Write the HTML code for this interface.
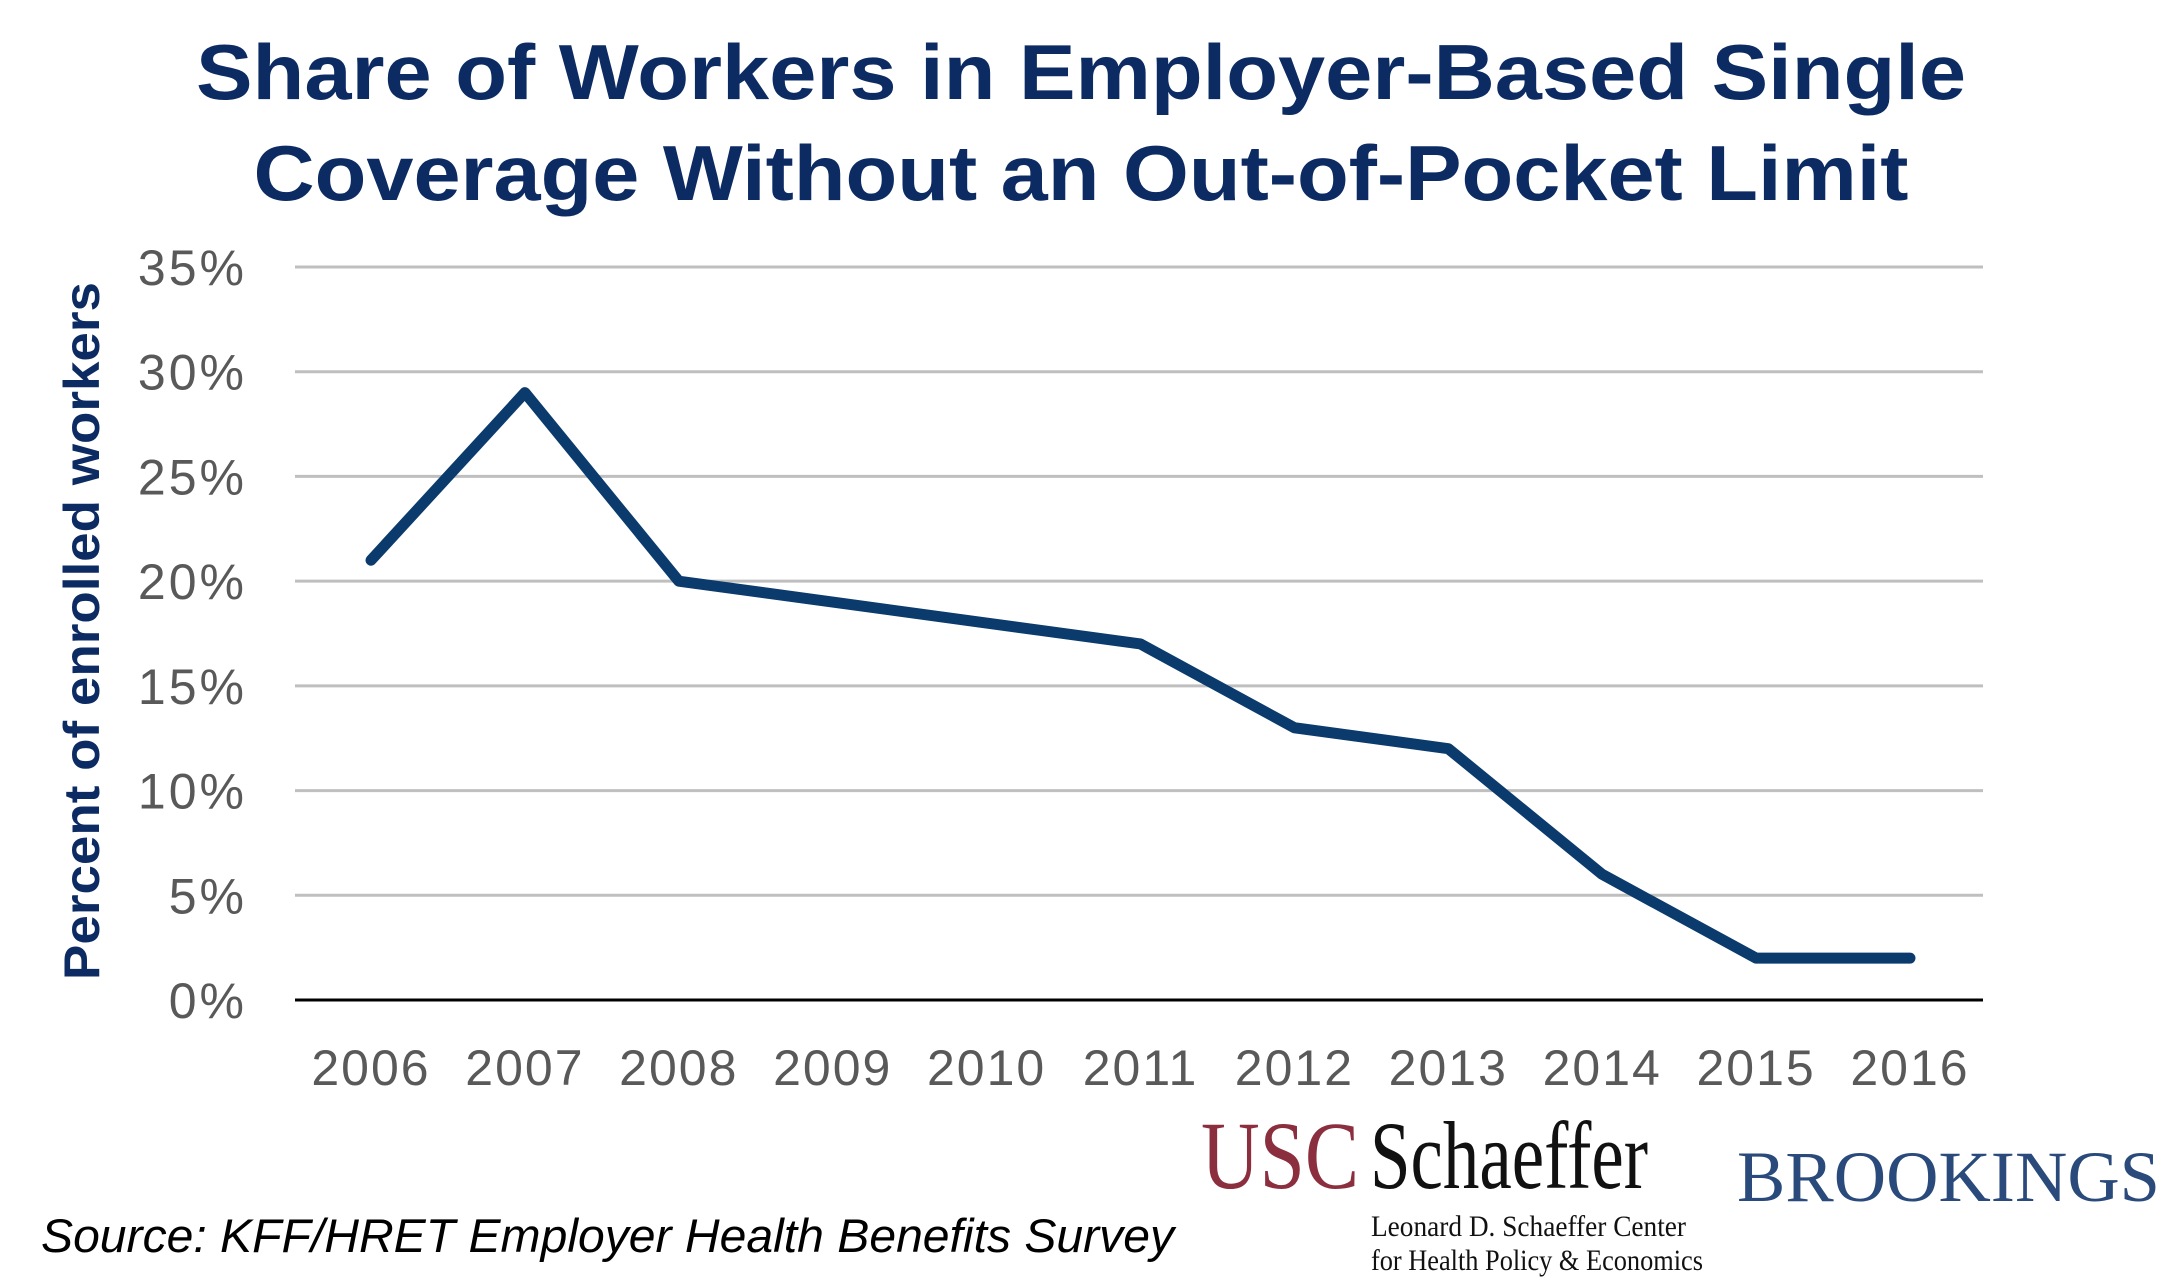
<!DOCTYPE html>
<html><head><meta charset="utf-8"><style>
html,body{margin:0;padding:0;background:#fff;}
svg{display:block;}
</style></head><body>
<svg id="chart" width="2170" height="1283" viewBox="0 0 2170 1283" xmlns="http://www.w3.org/2000/svg">
  <g font-family="Liberation Sans, Arial, sans-serif" font-weight="bold" font-size="78" fill="#0d2b63" text-anchor="middle">
    <text x="1081" y="99" textLength="1770" lengthAdjust="spacingAndGlyphs">Share of Workers in Employer-Based  Single</text>
    <text x="1081" y="200" textLength="1655" lengthAdjust="spacingAndGlyphs">Coverage Without an Out-of-Pocket Limit</text>
  </g>
  <text transform="translate(99,631) rotate(-90)" font-family="Liberation Sans, Arial, sans-serif" font-weight="bold" font-size="50" fill="#0d2b63" text-anchor="middle" textLength="698" lengthAdjust="spacingAndGlyphs">Percent of enrolled workers</text>
  <g id="grid"></g>
  <g id="yticks"></g>
  <g id="xticks"></g>
  <g id="series"></g>
  <text x="41" y="1252" font-family="Liberation Sans, Arial, sans-serif" font-style="italic" font-size="47" fill="#000" textLength="1133" lengthAdjust="spacingAndGlyphs">Source: KFF/HRET Employer Health Benefits Survey</text>
  <g font-family="Liberation Serif, Times New Roman, serif">
    <text x="1201" y="1188" font-size="96" fill="#8b2f3f" textLength="158" lengthAdjust="spacingAndGlyphs">USC</text>
    <text x="1370" y="1188" font-size="96" fill="#111" textLength="278" lengthAdjust="spacingAndGlyphs">Schaeffer</text>
    <text x="1371" y="1236" font-size="30" fill="#111" textLength="315" lengthAdjust="spacingAndGlyphs">Leonard D. Schaeffer Center</text>
    <text x="1371" y="1270" font-size="30" fill="#111" textLength="332" lengthAdjust="spacingAndGlyphs">for Health Policy &amp; Economics</text>
  </g>
  <text x="1737" y="1201" font-family="Liberation Serif, Times New Roman, serif" font-size="72" fill="#2a4a7c" textLength="423" lengthAdjust="spacingAndGlyphs">BROOKINGS</text>
</svg>
<script>
const years = ["2006","2007","2008","2009","2010","2011","2012","2013","2014","2015","2016"];
const values = [21,29,20,19,18,17,13,12,6,2,2];
const yTicks = [0,5,10,15,20,25,30,35];
const yTickLabels = ["0%","5%","10%","15%","20%","25%","30%","35%"];

const NS = "http://www.w3.org/2000/svg";
const plotL = 295, plotR = 1983, y0 = 1000, y35 = 267;
const x0 = 371, xStep = 153.9;
const yScale = v => y0 - (v / 35) * (y0 - y35);
const xScale = i => x0 + i * xStep;

const grid = document.getElementById('grid');
const yt = document.getElementById('yticks');
yTicks.forEach((t, i) => {
  const l = document.createElementNS(NS, 'line');
  
  
  l.setAttribute('x1', plotL); l.setAttribute('x2', plotR);
  l.setAttribute('y1', yScale(t)); l.setAttribute('y2', yScale(t));
  l.setAttribute('stroke', t === 0 ? '#000' : '#bfbfbf');
  l.setAttribute('stroke-width', 3);
  grid.appendChild(l);
  const tx = document.createElementNS(NS, 'text');
  
  
  tx.setAttribute('x', 247); tx.setAttribute('y', yScale(t) + 18);
  tx.setAttribute('text-anchor', 'end');
  tx.setAttribute('font-family', 'Liberation Sans, Arial, sans-serif');
  tx.setAttribute('font-size', '50');
  tx.setAttribute('letter-spacing', '3');
  tx.setAttribute('fill', '#595959');
  tx.textContent = yTickLabels[i];
  yt.appendChild(tx);
});

const xt = document.getElementById('xticks');
years.forEach((y, i) => {
  const tx = document.createElementNS(NS, 'text');
  
  
  tx.setAttribute('x', xScale(i)); tx.setAttribute('y', 1085);
  tx.setAttribute('text-anchor', 'middle');
  tx.setAttribute('font-family', 'Liberation Sans, Arial, sans-serif');
  tx.setAttribute('font-size', '50');
  tx.setAttribute('letter-spacing', '2');
  tx.setAttribute('fill', '#595959');
  tx.textContent = y;
  xt.appendChild(tx);
});

const series = document.getElementById('series');
const p = document.createElementNS(NS, 'polyline');


p.setAttribute('points', values.map((v, i) => xScale(i) + ',' + yScale(v)).join(' '));
p.setAttribute('fill', 'none');
p.setAttribute('stroke', '#0b3a6c');
p.setAttribute('stroke-width', '11');
p.setAttribute('stroke-linejoin', 'round');
p.setAttribute('stroke-linecap', 'round');
series.appendChild(p);
</script>
</body></html>
